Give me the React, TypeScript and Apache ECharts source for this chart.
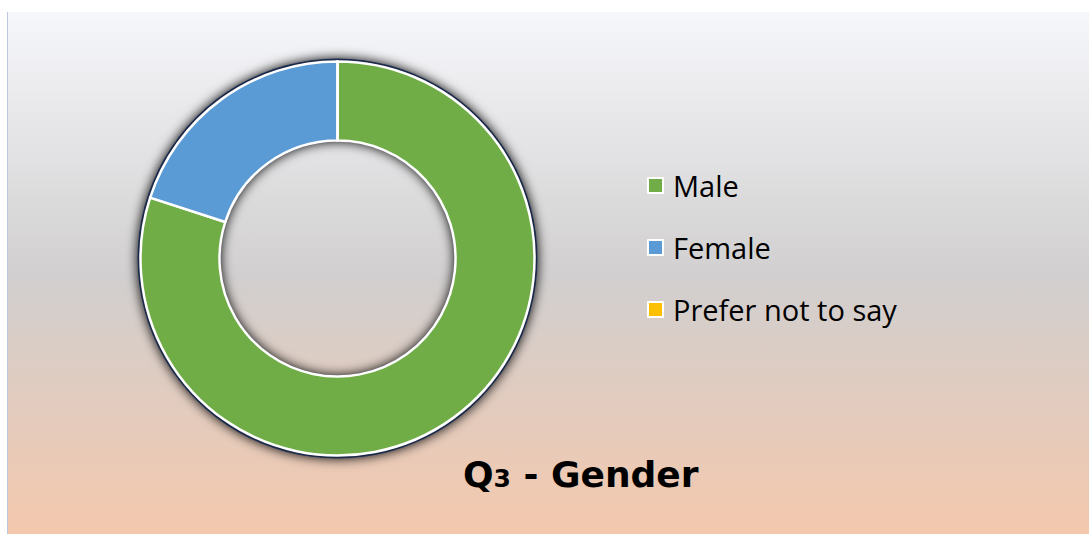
import React, { useEffect, useRef } from "react";
import * as echarts from "echarts";

const categories = ["Male", "Female", "Prefer not to say"];
const values = [80, 20, 0];
const colors = ["#70ad47", "#5b9bd5", "#ffc000"];
const titleMain = "Q";
const titleSub = "3";
const titleRest = " - Gender";

export default function App() {
  const ref = useRef<HTMLDivElement>(null);
  useEffect(() => {
    if (!ref.current) return;
    const chart = echarts.init(ref.current, null, { renderer: "svg" });
    chart.setOption({
      animation: false,
      graphic: [
        {
          type: "rect",
          z: -10,
          silent: true,
          shape: { x: 7, y: 12, width: 1090, height: 530 },
          style: {
            fill: new echarts.graphic.LinearGradient(0, 0, 0, 1, [
              { offset: 0, color: "#f6f7fb" },
              { offset: 0.5, color: "#d1cfcf" },
              { offset: 1, color: "#f5c8ac" },
            ]),
          },
        },
        {
          type: "line",
          z: -9,
          silent: true,
          shape: { x1: 7.5, y1: 12, x2: 7.5, y2: 534 },
          style: { stroke: "#bcc6e0", lineWidth: 1 },
        },
      ],
      title: {
        left: 458,
        top: 451,
        text: `{q|${titleMain}}{s|${titleSub}}{q|${titleRest}}`,
        textStyle: {
          rich: {
            q: { fontSize: 36, fontWeight: "bold", fontFamily: "DejaVu Sans", color: "#000", verticalAlign: "bottom" },
            s: { fontSize: 25, fontWeight: "bold", fontFamily: "DejaVu Sans", color: "#000", verticalAlign: "bottom", padding: [0, 0, 1, 0] },
          },
        },
      },
      legend: {
        orient: "vertical",
        left: 642,
        top: 166,
        itemGap: 33,
        itemWidth: 15,
        itemHeight: 15,
        icon: "rect",
        data: categories,
        itemStyle: { borderColor: "#ffffff", borderWidth: 2 },
        textStyle: { fontSize: 29, color: "#000", fontFamily: "Open Sans", padding: [0, 0, 0, 5] },
      },
      series: [
        {
          type: "pie",
          name: "shadow",
          silent: true,
          center: [337.5, 258.5],
          radius: [117, 200],
          label: { show: false },
          labelLine: { show: false },
          itemStyle: {
            color: "#1d2a4a",
            shadowBlur: 12,
            shadowColor: "rgba(0,0,15,1)",
          },
          data: [{ name: "__bg", value: 1 }],
          z: 1,
        },
        {
          type: "pie",
          name: "Gender",
          center: [337.5, 258.5],
          radius: [118, 197],
          startAngle: 90,
          clockwise: true,
          label: { show: false },
          labelLine: { show: false },
          itemStyle: { borderColor: "#ffffff", borderWidth: 2.5 },
          data: categories.map((c, i) => ({ name: c, value: values[i], itemStyle: { color: colors[i] } })),
          z: 2,
        },
      ],
    });
    return () => chart.dispose();
  }, []);
  return (
    <div
      ref={ref}
      style={{ position: "absolute", left: 0, top: 0, width: 1089, height: 534 }}
    />
  );
}
